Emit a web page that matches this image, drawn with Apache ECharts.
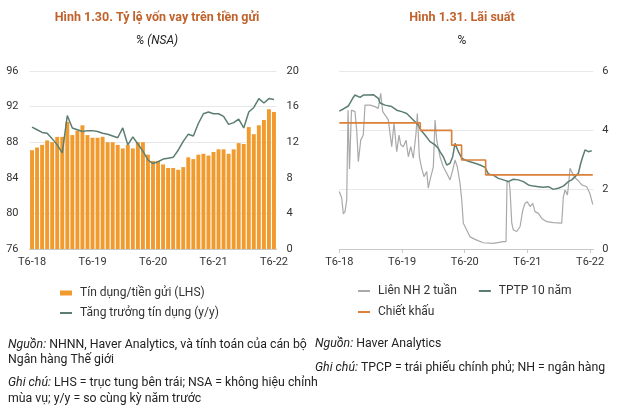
<!DOCTYPE html>
<html><head><meta charset="utf-8">
<script src="https://cdn.jsdelivr.net/npm/echarts@6/dist/echarts.min.js"></script>
<style>html,body{margin:0;padding:0;background:#fff}#c{width:640px;height:417px}</style>
</head><body><div id="c"></div>
<script>
// ---------- Data: Hình 1.30 ----------
const months = ['T6-18','T7-18','T8-18','T9-18','T10-18','T11-18','T12-18',
  'T1-19','T2-19','T3-19','T4-19','T5-19','T6-19','T7-19','T8-19','T9-19','T10-19','T11-19','T12-19',
  'T1-20','T2-20','T3-20','T4-20','T5-20','T6-20','T7-20','T8-20','T9-20','T10-20','T11-20','T12-20',
  'T1-21','T2-21','T3-21','T4-21','T5-21','T6-21','T7-21','T8-21','T9-21','T10-21','T11-21','T12-21',
  'T1-22','T2-22','T3-22','T4-22','T5-22','T6-22'];
const loanDepositRatio = [87.1,87.4,87.7,88.2,88.0,88.6,88.6,90.3,88.8,89.3,89.9,88.8,88.5,88.5,88.6,88.0,88.0,87.7,87.3,87.7,87.3,88.0,88.0,86.6,85.9,85.9,85.5,85.1,85.1,84.9,85.2,86.3,86.1,86.6,86.7,86.5,86.9,87.2,87.2,86.7,87.2,87.9,87.8,89.7,88.9,89.9,90.5,91.7,91.4];
const creditGrowth = [13.7,13.4,13.1,13.0,12.4,11.7,10.8,15.0,13.6,13.4,13.2,13.3,13.3,13.2,13.0,12.9,12.7,12.5,13.6,11.7,12.6,11.8,11.0,10.0,9.6,9.8,10.1,10.2,10.3,11.1,12.1,12.9,12.7,14.1,15.2,15.4,15.2,15.2,14.9,14.0,14.2,14.6,13.6,15.4,15.9,16.9,16.4,16.9,16.8];

// ---------- Data: Hình 1.31 (x = months since T6-18) ----------
const tickLabels = ['T6-18','T6-19','T6-20','T6-21','T6-22'];
const interbank2w = [[0,1.94],[0.46,1.72],[0.77,1.18],[1.09,1.26],[1.42,1.65],[1.67,4.68],[1.95,2.7],[2.33,4.68],[3.0,4.63],[3.33,4.0],[3.64,2.94],[4.1,3.67],[4.59,3.84],[4.92,4.85],[5.24,4.91],[5.88,4.85],[6.83,4.8],[7.46,4.74],[7.92,5.25],[8.31,4.63],[8.75,4.52],[9.38,4.35],[9.7,3.9],[10.03,3.45],[10.47,4.24],[10.99,3.28],[11.43,3.84],[11.75,3.51],[12.25,3.45],[12.77,3.67],[13.21,3.11],[13.67,3.45],[14.16,3.06],[14.68,3.9],[14.93,4.57],[15.31,3.11],[15.77,2.72],[16.21,2.44],[16.73,2.61],[17.03,2.05],[17.36,2.33],[17.99,2.77],[18.32,4.35],[18.64,3.67],[19.27,3.11],[19.9,2.77],[20.56,2.55],[21.19,2.33],[21.7,2.66],[22.14,3.0],[22.58,2.77],[23.1,2.21],[23.43,1.65],[23.73,0.87],[24.38,0.64],[25.01,0.41],[26.3,0.3],[27.56,0.21],[29.47,0.19],[31.39,0.25],[31.9,0.25],[32.1,2.3],[32.5,2.25],[32.67,1.99],[33.0,0.87],[33.3,0.64],[33.95,0.59],[34.58,0.75],[35.1,1.31],[35.54,1.54],[35.98,1.59],[36.5,1.43],[37.01,1.54],[37.45,1.26],[38.09,1.2],[38.74,1.03],[39.69,0.92],[40.96,0.89],[42.56,0.87],[42.87,1.76],[43.2,1.99],[43.64,1.82],[43.83,2.1],[44.15,2.72],[44.47,2.6],[45.1,2.4],[45.74,2.3],[46.39,2.16],[47.35,2.1],[47.98,1.85],[48.5,1.5]];
const bond10y = [[0,4.65],[0.77,4.72],[1.72,4.82],[2.56,5.08],[3.0,5.19],[3.96,5.11],[4.59,5.19],[5.55,5.19],[6.51,5.2],[7.46,5.08],[7.79,4.92],[8.75,4.85],[10.03,4.8],[10.99,4.68],[11.94,4.63],[12.9,4.57],[13.86,4.4],[14.49,4.29],[15.12,4.18],[15.58,4.01],[16.4,3.84],[17.36,3.62],[18.32,3.51],[18.95,3.39],[19.27,3.28],[19.9,3.11],[20.56,2.83],[21.19,2.89],[21.7,3.11],[22.14,3.56],[22.78,3.28],[23.43,3.06],[24.06,3.0],[25.01,2.94],[25.97,2.89],[26.93,2.83],[27.89,2.75],[28.52,2.53],[29.47,2.49],[30.43,2.38],[31.39,2.33],[32.34,2.27],[33.3,2.35],[34.26,2.33],[35.22,2.27],[36.17,2.16],[37.13,2.12],[38.09,2.1],[39.04,2.08],[40.0,2.1],[40.96,2.01],[41.91,2.05],[42.87,2.12],[43.83,2.27],[44.48,2.33],[45.11,2.44],[45.74,2.55],[46.2,2.89],[46.58,3.11],[47.02,3.34],[47.66,3.28],[48.3,3.31]];
const discountRate = [[0,4.25],[15.5,4.0],[21.5,3.5],[23.4,3.0],[28.0,2.5],[48.5,2.5]];

const FONT = 'Roboto';
const C_BAR = '#F19B2F', C_GREEN = '#5B7E71', C_GRAY = '#A9A9A9', C_DISC = '#D9803A', C_TITLE = '#C0622B';
const axisLbl = {color:'#333', fontSize:11, fontFamily:FONT};
const legTxt = {fontSize:12, color:'#333', fontFamily:FONT, padding:[0,0,0,3]};

const chart = echarts.init(document.getElementById('c'), null, {renderer:'canvas'});

function txt(x, y, text, opt) {
  return {type:'text', x:x, y:y, style:Object.assign({text:text, fontFamily:FONT, fontSize:12.3, fill:'#222', verticalAlign:'middle'}, opt||{})};
}
const rich = {i:{fontStyle:'italic', fontFamily:FONT, fontSize:12.3, fill:'#222'}};

chart.setOption({
  animation:false,
  textStyle:{fontFamily:FONT},
  grid:[
    {left:29.5, width:247, top:71, height:178, show:false},
    {left:339.3, width:254, top:71, height:178, show:false}
  ],
  legend:[
    {left:60, top:287, padding:0, itemWidth:12, itemHeight:5, textStyle:legTxt,
     data:[{name:'Tín dụng/tiền gửi (LHS)', icon:'rect'}]},
    {left:60, top:307, padding:0, itemWidth:12, itemHeight:2, textStyle:legTxt,
     data:[{name:'Tăng trưởng tín dụng (y/y)', icon:'rect'}]},
    {left:358, top:285, orient:'horizontal', padding:0, itemGap:22, itemWidth:12, itemHeight:2, textStyle:legTxt,
     data:[{name:'Liên NH 2 tuần', icon:'rect'},{name:'TPTP 10 năm', icon:'rect'}]},
    {left:358, top:306, orient:'horizontal', padding:0, itemWidth:12, itemHeight:2, textStyle:legTxt,
     data:[{name:'Chiết khấu', icon:'rect'}]}
  ],
  xAxis:[
    {type:'category', gridIndex:0, data:months, boundaryGap:true,
     axisLine:{onZero:false, lineStyle:{color:'#c8c8c8'}},
     axisTick:{alignWithLabel:true, interval:11, length:4, lineStyle:{color:'#c8c8c8'}},
     splitLine:{show:false}, splitArea:{show:false},
     axisLabel:Object.assign({interval:11, margin:8}, axisLbl)},
    {type:'value', gridIndex:1, min:0, max:48.6, interval:12,
     axisLine:{show:true, onZero:false, lineStyle:{color:'#c8c8c8'}},
     axisTick:{show:true, length:4, lineStyle:{color:'#c8c8c8'}},
     splitLine:{show:false}, minorSplitLine:{show:false}, splitArea:{show:false},
     axisLabel:Object.assign({margin:8, showMaxLabel:false, formatter:function(v){return (v%12===0)?tickLabels[v/12]:'';}}, axisLbl)}
  ],
  yAxis:[
    {type:'value', gridIndex:0, min:76, max:96, interval:4, position:'left',
     axisLine:{show:false, onZero:false}, axisTick:{show:false},
     splitLine:{lineStyle:{color:'#e8e8e8'}},
     axisLabel:Object.assign({margin:11}, axisLbl)},
    {type:'value', gridIndex:0, min:0, max:20, interval:4, position:'right',
     axisLine:{show:false, onZero:false}, axisTick:{show:false}, splitLine:{show:false},
     axisLabel:Object.assign({margin:10}, axisLbl)},
    {type:'value', gridIndex:1, min:0, max:6, interval:2, position:'right',
     axisLine:{show:false, onZero:false}, axisTick:{show:false},
     splitLine:{lineStyle:{color:'#e8e8e8'}},
     axisLabel:Object.assign({margin:9}, axisLbl)}
  ],
  series:[
    {name:'Tín dụng/tiền gửi (LHS)', type:'bar', xAxisIndex:0, yAxisIndex:0, data:loanDepositRatio,
     barCategoryGap:'22%', itemStyle:{color:C_BAR}},
    {name:'Tăng trưởng tín dụng (y/y)', type:'line', xAxisIndex:0, yAxisIndex:1, data:creditGrowth,
     showSymbol:false, lineStyle:{color:C_GREEN, width:1.5}, itemStyle:{color:C_GREEN}},
    {name:'Liên NH 2 tuần', type:'line', xAxisIndex:1, yAxisIndex:2, data:interbank2w,
     showSymbol:false, lineStyle:{color:C_GRAY, width:1.2}, itemStyle:{color:C_GRAY}},
    {name:'TPTP 10 năm', type:'line', xAxisIndex:1, yAxisIndex:2, data:bond10y,
     showSymbol:false, lineStyle:{color:C_GREEN, width:1.5}, itemStyle:{color:C_GREEN}},
    {name:'Chiết khấu', type:'line', xAxisIndex:1, yAxisIndex:2, data:discountRate, step:'end',
     showSymbol:false, lineStyle:{color:C_DISC, width:1.6}, itemStyle:{color:C_DISC}}
  ],
  graphic:[
    txt(157, 18, 'Hình 1.30. Tỷ lệ vốn vay trên tiền gửi', {align:'center', fontWeight:'bold', fontSize:12.5, fill:C_TITLE}),
    txt(157, 41, '% (NSA)', {align:'center', fontStyle:'italic', fontSize:12}),
    txt(462, 18, 'Hình 1.31. Lãi suất', {align:'center', fontWeight:'bold', fontSize:12.5, fill:C_TITLE}),
    txt(462, 41, '%', {align:'center', fontSize:12}),
    txt(8, 345, '{i|Nguồn:} NHNN, Haver Analytics, và tính toán của cán bộ', {rich:rich}),
    txt(8, 360, 'Ngân hàng Thế giới'),
    txt(8, 383, '{i|Ghi chú:} LHS = trục tung bên trái; NSA = không hiệu chỉnh', {rich:rich}),
    txt(8, 399, 'mùa vụ; y/y = so cùng kỳ năm trước'),
    txt(315, 344, '{i|Nguồn:} Haver Analytics', {rich:rich}),
    txt(315, 368, '{i|Ghi chú:} TPCP = trái phiếu chính phủ; NH = ngân hàng', {rich:rich})
  ]
});
</script></body></html>
